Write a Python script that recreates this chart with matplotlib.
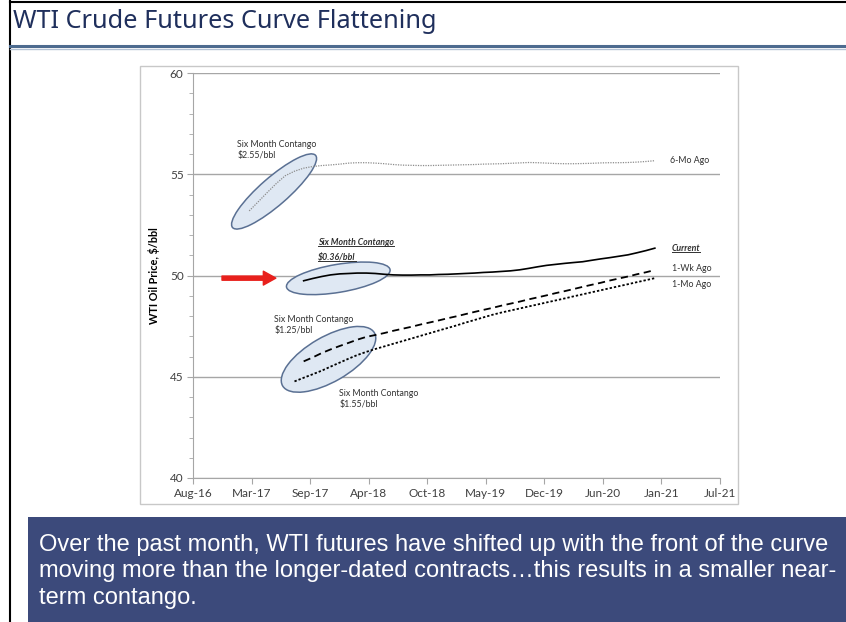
import numpy as np
import pandas as pd
import matplotlib
matplotlib.use("Agg")
import matplotlib.pyplot as plt
import matplotlib.dates as mdates
from matplotlib.patches import Ellipse, Rectangle
from matplotlib.lines import Line2D
from matplotlib.transforms import ScaledTranslation

# ---- donnees ($/bbl par mois de contrat) ----
x_labels = ["Aug-16", "Mar-17", "Sep-17", "Apr-18", "Oct-18",
            "May-19", "Dec-19", "Jun-20", "Jan-21", "Jul-21"]
y_ticks = [40, 45, 50, 55, 60]

current = [49.74, 49.85, 49.95, 50.03, 50.08, 50.10, 50.12, 50.12, 50.10, 50.06,
           50.03, 50.02, 50.02, 50.03, 50.03, 50.05, 50.06, 50.08, 50.10, 50.12,
           50.15, 50.17, 50.20, 50.23, 50.28, 50.35, 50.43, 50.50, 50.55, 50.60,
           50.64, 50.68, 50.75, 50.82, 50.88, 50.95, 51.02, 51.12, 51.23, 51.35]

wk_ago = [45.76, 45.95, 46.17, 46.35, 46.52, 46.68, 46.83, 46.97, 47.06, 47.16,
          47.27, 47.37, 47.47, 47.58, 47.68, 47.78, 47.89, 47.99, 48.09, 48.20,
          48.30, 48.40, 48.51, 48.61, 48.71, 48.82, 48.92, 49.02, 49.13, 49.23,
          49.33, 49.44, 49.54, 49.64, 49.75, 49.85, 49.95, 50.06, 50.16, 50.27]

mo_ago = [44.77, 44.95, 45.12, 45.30, 45.50, 45.70, 45.90, 46.07, 46.23, 46.37,
          46.50, 46.63, 46.76, 46.89, 47.02, 47.15, 47.28, 47.41, 47.54, 47.67,
          47.80, 47.93, 48.06, 48.17, 48.27, 48.37, 48.47, 48.57, 48.67, 48.77,
          48.87, 48.97, 49.07, 49.17, 49.27, 49.37, 49.47, 49.57, 49.67, 49.77,
          49.87]

six_mo_ago = [53.19, 53.65, 54.10, 54.55, 54.93, 55.15, 55.30, 55.38, 55.43, 55.46,
              55.50, 55.55, 55.57, 55.57, 55.55, 55.52, 55.48, 55.45, 55.44, 55.43,
              55.43, 55.44, 55.45, 55.46, 55.47, 55.48, 55.50, 55.51, 55.52, 55.54,
              55.56, 55.58, 55.57, 55.55, 55.53, 55.52, 55.52, 55.53, 55.54, 55.56,
              55.57, 55.57, 55.58, 55.60, 55.63, 55.67]

shift = pd.Timedelta(days=7)
m_current = pd.date_range("2017-09-01", periods=len(current), freq="MS") + shift
m_wk = pd.date_range("2017-09-01", periods=len(wk_ago), freq="MS") + shift
m_mo = pd.date_range("2017-08-01", periods=len(mo_ago), freq="MS") + shift
m_6mo = pd.date_range("2017-03-01", periods=len(six_mo_ago), freq="MS") + shift

# axe des dates facon Excel : 10 graduations tous les ~198 jours
x0 = mdates.date2num(pd.Timestamp("2016-08-31"))
step = 197.8
x_ticks = x0 + step * np.arange(len(x_labels))

W, H = 846, 622
fig = plt.figure(figsize=(W / 100, H / 100), dpi=100)
fig.patch.set_facecolor("white")

def fx(px):
    return px / W

def fy(py):
    return 1 - py / H

# cadre de la diapo
fig.add_artist(Line2D([fx(10), fx(10)], [0, 1], color="black", lw=1.5))
fig.add_artist(Line2D([fx(10), 1], [fy(2), fy(2)], color="black", lw=1.5))
fig.add_artist(Line2D([fx(10), 1], [fy(45.5), fy(45.5)], color="#4d6b8f", lw=2.2))
fig.add_artist(Line2D([fx(10), 1], [fy(48.5), fy(48.5)], color="#b4c2d4", lw=1))
fig.text(fx(13), fy(22), "WTI Crude Futures Curve Flattening", fontsize=18.2,
         family="Noto Sans", color="#1f2f5c", va="center", ha="left")

# cadre du graphique
fig.add_artist(Rectangle((fx(140), fy(504)), fx(738) - fx(140), fy(66) - fy(504),
                         transform=fig.transFigure, fill=False, edgecolor="#c8c8c8", lw=1))

ax = fig.add_axes([fx(193.3), fy(478), fx(720) - fx(193.3), fy(73) - fy(478)])
font = "Lato"
grey = "#a6a6a6"

ax.plot(m_6mo, six_mo_ago, color="#8c8c8c", lw=0.9, dashes=(1, 1))
ax.plot(m_current, current, color="black", lw=1.2)
ax.plot(m_wk, wk_ago, color="black", lw=1.3, dashes=(4, 2.5))
ax.plot(m_mo, mo_ago, color="black", lw=1.3, dashes=(1.3, 1.1))

ax.set_xlim(x_ticks[0], x_ticks[-1])
ax.set_ylim(40, 60)
ax.set_xticks(x_ticks)
ax.set_xticklabels(x_labels)
ax.set_yticks(y_ticks)
ax.set_yticks(np.arange(40, 61, 1), minor=True)
ax.grid(axis="y", which="major", color=grey, lw=1)
ax.set_axisbelow(True)
for s in ["top", "right"]:
    ax.spines[s].set_visible(False)
for s in ["left", "bottom"]:
    ax.spines[s].set_color(grey)
ax.tick_params(axis="both", which="major", direction="out", length=4, color=grey,
               labelsize=8.5, labelcolor="#404040", pad=3)
ax.tick_params(axis="y", which="minor", direction="out", length=3, color=grey)
ax.tick_params(axis="x", which="minor", length=0)
for lab in ax.get_xticklabels() + ax.get_yticklabels():
    lab.set_family(font)
ax.set_ylabel("WTI Oil Price, $/bbl", fontsize=7.8, fontweight="bold", family=font)
ax.yaxis.set_label_coords(-0.063, 0.5)

# ellipses de mise en evidence (centre en donnees, taille en pouces)
def oval(date, price, major_px, minor_px, angle):
    tr = fig.dpi_scale_trans + ScaledTranslation(mdates.date2num(pd.Timestamp(date)), price, ax.transData)
    e = Ellipse((0, 0), major_px / 100, minor_px / 100, angle=angle, transform=tr,
                facecolor="#dfe8f3", edgecolor="#5a7093", lw=1.1, zorder=1, clip_on=False)
    ax.add_patch(e)

oval("2017-05-31", 54.15, 110, 28, 41)
oval("2018-01-03", 49.86, 105, 28, 9.5)
oval("2017-12-01", 45.86, 106, 45, 30)

# fleche rouge
ax.annotate("", xy=(pd.Timestamp("2017-06-06"), 49.87), xytext=(pd.Timestamp("2016-12-06"), 49.87),
            arrowprops=dict(facecolor="#e8201c", edgecolor="#e8201c", width=3, headwidth=10,
                            headlength=9), zorder=5)

# textes
def note(xf, yf, s, **kw):
    return ax.text(xf, yf, s, transform=ax.transAxes, fontsize=6.3, family=font,
                   color="#303030", **kw)

note(0.0834, 0.8346, "Six Month Contango\n$2.55/bbl", va="top", linespacing=1.35)
note(0.9055, 0.7835, "6-Mo Ago", va="center")
note(0.9085, 0.5178, "1-Wk Ago", va="center")
note(0.9085, 0.4778, "1-Mo Ago", va="center")
note(0.1538, 0.4025, "Six Month Contango\n$1.25/bbl", va="top", linespacing=1.35)
note(0.2772, 0.2198, "Six Month Contango\n$1.55/bbl", va="top", linespacing=1.35)

underlined = [
    note(0.2373, 0.5933, "Six Month Contango", va="top", fontweight="bold", style="italic"),
    note(0.2373, 0.5560, "$0.36/bbl", va="top", fontweight="bold", style="italic"),
    note(0.9085, 0.567, "Current", va="center", fontweight="bold", style="italic"),
]

# bandeau bleu du bas
fig.add_artist(Rectangle((fx(28), 0), 1 - fx(28), fy(517), transform=fig.transFigure,
                         facecolor="#3c4a7b", edgecolor="none"))
msg = ("Over the past month, WTI futures have shifted up with the front of the curve\n"
       "moving more than the longer-dated contracts\u2026this results in a smaller near-\n"
       "term contango.")
fig.text(fx(39), fy(571.5), msg, color="white", fontsize=17,
         family="Liberation Sans", va="center", ha="left", linespacing=1.27)

# soulignements
fig.canvas.draw()
r = fig.canvas.get_renderer()
inv = fig.transFigure.inverted()
for t in underlined:
    bb = t.get_window_extent(r)
    (a, b), (c, d) = inv.transform([(bb.x0, bb.y0 + 1), (bb.x1, bb.y0 + 1)])
    fig.add_artist(Line2D([a, c], [b, d], color="#303030", lw=0.7))

fig.savefig("out.png", dpi=100)
